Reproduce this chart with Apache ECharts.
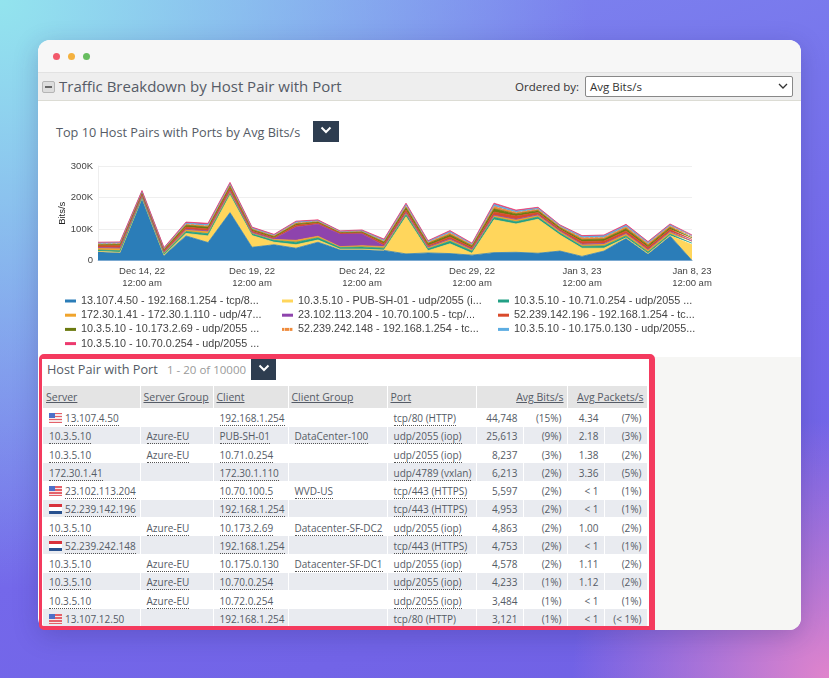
<!DOCTYPE html>
<html>
<head>
<meta charset="utf-8">
<title>Traffic Breakdown by Host Pair with Port</title>
<script src="https://cdn.jsdelivr.net/npm/echarts@6/dist/echarts.min.js"></script>
<style>
    html, body { margin: 0; padding: 0; }
    body { width: 829px; height: 678px; position: relative; overflow: hidden; font-family: "Open Sans", sans-serif; color: #555b66;
        background: radial-gradient(circle at 100% 100%, #e084cc 0, rgba(224,132,204,0) 24%), radial-gradient(circle at 0 0, #93e4ee 0, rgba(147,228,238,0) 55%), linear-gradient(160deg, #7f8cf0 0, #7468ea 60%, #7060e4 100%); }
    .abs { position: absolute; }
    #win { left: 38px; top: 40px; width: 763px; height: 590px; background: #fff; border-radius: 12px; overflow: hidden; box-shadow: 0 6px 24px rgba(40,40,110,.25); }
    #bar { left: 0; top: 0; width: 763px; height: 32px; background: #f7f7f7; }
    .dot { width: 7px; height: 7px; border-radius: 50%; top: 13px; }
    #head { left: 0; top: 32px; width: 763px; height: 29px; background: #eeeeee; border-top: 1px solid #e2e2e2; border-bottom: 1px solid #dcdcd4; box-sizing: border-box; }
    #minus { left: 4px; top: 8px; width: 11px; height: 10px; border: 1px solid #b5b5b5; background: #ddd; border-radius: 2px; }
    #minus i { position: absolute; left: 2px; right: 2px; top: 4px; height: 2px; background: #666; }
    #rest { left: 617px; top: 317px; width: 146px; height: 273px; background: #f6f6f4; }
    .btn { background: #2e3d50; }
    .btn svg { display: block; margin: 5px auto 0; }
    #tableBox { left: 39px; top: 354px; width: 616px; height: 276px; box-sizing: border-box; border-style: solid; border-color: #f43a5e; border-width: 5px 6px 4px 3px; border-radius: 5px 5px 0 5px; background: #fff; overflow: hidden; }
    table { position: absolute; left: 1px; top: 27px; border-collapse: collapse; table-layout: fixed; width: 604px; font-size: 10px; }
    th, td { padding: 0; height: 18.25px; box-sizing: border-box; white-space: nowrap; border-right: 1px solid #fff; font-weight: normal; color: #555b66; }
    th { height: 22px; background: #e4e4e4; text-align: left; padding-left: 3px; font-size: 10.5px; }
    th.r { text-align: right; padding-right: 3px; }
    th span { text-decoration: underline; }
    td { padding-left: 6px; padding-top: 2px; border-top: 1px solid #fff; }
    td.r { text-align: right; padding-right: 5px; padding-left: 0; }
    tr.alt td { background: #e9ebf0; }
    td u { text-decoration: none; border-bottom: 1px dotted #555; }
    .flag { display: inline-block; width: 13px; height: 10px; margin-right: 3px; vertical-align: -1px; }
    .us { background: linear-gradient(#4d6fc8, #4d6fc8) 0 0/6px 5px no-repeat, repeating-linear-gradient(#e4616a 0, #e4616a 1.5px, #f7e6e6 1.5px, #f7e6e6 3px); }
    .nl { background: linear-gradient(#d8323c 0 33%, #fff 33% 66%, #27518f 66%); }
    #chart { left: 0; top: 0; width: 829px; height: 678px; pointer-events: none; }
</style>
</head>
<body>

<div id="win" class="abs">
    <div id="bar" class="abs">
        <div class="abs dot" style="left:15px;background:#f2596b"></div>
        <div class="abs dot" style="left:30px;background:#f4b13f"></div>
        <div class="abs dot" style="left:45px;background:#67bd5f"></div>
    </div>
    <div id="head" class="abs">
        <div id="minus" class="abs"><i></i></div>
        <div class="abs" style="left:21px;top:3px;font-size:15px;white-space:nowrap">Traffic Breakdown by Host Pair with Port</div>
        <div class="abs" style="left:477px;top:6px;font-size:11.5px;color:#333">Ordered by:</div>
        <div class="abs" style="left:547px;top:3px;width:208px;height:21px;box-sizing:border-box;background:#fff;border:1px solid #888;border-radius:2px;font-size:11.5px;color:#333;padding:2px 0 0 4px">Avg Bits/s
            <svg class="abs" style="right:4px;top:6px" width="10" height="7"><path d="M1 1 L5 5 L9 1" fill="none" stroke="#333" stroke-width="1.3"/></svg>
        </div>
    </div>
    <div class="abs" style="left:18px;top:83px;font-size:12.7px;white-space:nowrap">Top 10 Host Pairs with Ports by Avg Bits/s</div>
    <div class="abs btn" style="left:275px;top:81px;width:26px;height:21px"><svg width="12" height="9"><path d="M1.5 1.5 L6 6 L10.5 1.5" fill="none" stroke="#fff" stroke-width="2"/></svg></div>
    <div id="rest" class="abs"></div>
</div>

<div id="tableBox" class="abs">
    <div class="abs" style="left:5px;top:1px;font-size:12.7px;white-space:nowrap">Host Pair with Port</div>
    <div class="abs" style="left:125px;top:3px;font-size:11.5px;color:#9a9a9a;white-space:nowrap">1 - 20 of 10000</div>
    <div class="abs btn" style="left:209px;top:0;width:25px;height:21px"><svg width="12" height="9"><path d="M1.5 1.5 L6 6 L10.5 1.5" fill="none" stroke="#fff" stroke-width="2"/></svg></div>
    <table id="tbl"></table>
</div>

<div id="chart" class="abs"></div>

<script>
    // chart data, values in bits/s (thousands), one point a day
    var days = ['Dec 12, 22','Dec 13, 22','Dec 14, 22','Dec 15, 22','Dec 16, 22','Dec 17, 22','Dec 18, 22','Dec 19, 22','Dec 20, 22','Dec 21, 22','Dec 22, 22','Dec 23, 22','Dec 24, 22','Dec 25, 22','Dec 26, 22','Dec 27, 22','Dec 28, 22','Dec 29, 22','Dec 30, 22','Dec 31, 22','Jan 1, 23','Jan 2, 23','Jan 3, 23','Jan 4, 23','Jan 5, 23','Jan 6, 23','Jan 7, 23','Jan 8, 23'];
    var seriesNames = ['13.107.4.50 - 192.168.1.254 - tcp/8...','10.3.5.10 - PUB-SH-01 - udp/2055 (i...','10.3.5.10 - 10.71.0.254 - udp/2055 ...','172.30.1.41 - 172.30.1.110 - udp/47...','23.102.113.204 - 10.70.100.5 - tcp/...','52.239.142.196 - 192.168.1.254 - tc...','10.3.5.10 - 10.173.2.69 - udp/2055 ...','52.239.242.148 - 192.168.1.254 - tc...','10.3.5.10 - 10.175.0.130 - udp/2055...','10.3.5.10 - 10.70.0.254 - udp/2055 ...'];
    var seriesColors = ['#2b7db8','#ffd65c','#22a085','#f0a42c','#8e44ad','#d94a2b','#6b7a10','#ef8a3c','#5dade2','#ec3a6e'];

    var blue   = [28,25,197,16,78,57,152,42,50,39,58,34,34,32,21,24,22,17,25,26,23,30,13,30,71,21,78,0];
    var yellow = [1,1,1,1,8,21,56,37,8,11,7,2,2,1,118,7,31,6,104,90,108,51,26,9,1,1,1,50];
    var teal   = [4,5,3,5,6,7,5,6,6,8,7,6,7,6,7,6,8,7,8,7,7,6,6,7,6,5,5,5];
    var orange = [7,8,4,4,6,8,7,3,3,6,5,2,4,5,5,5,6,5,6,7,6,6,6,7,7,7,7,6];
    var purple = [1,1,1,1,1,1,1,1,2,42,38,40,38,3,1,1,1,1,1,1,1,1,1,1,1,1,1,1];
    var red    = [6,7,5,4,7,6,8,5,3,6,4,3,3,6,8,5,7,5,10,10,7,5,8,8,8,7,7,5];
    var olive  = [3,4,4,4,6,6,7,4,4,4,3,2,3,5,8,6,7,5,10,7,6,5,6,6,7,6,6,5];
    var dashed = [3,3,3,2,4,4,5,3,3,4,3,2,2,4,6,4,6,4,8,5,5,4,6,6,6,6,5,4];
    var light  = [3,3,2,2,3,4,4,3,2,3,2,2,2,3,5,3,4,3,6,4,4,3,5,5,5,4,4,3];
    var pink   = [2,2,2,2,3,4,3,2,2,2,2,1,2,3,3,2,3,2,4,3,2,2,2,2,3,2,2,2];
    var stacks = [blue, yellow, teal, orange, purple, red, olive, dashed, light, pink];

    // legend columns, holding indexes into seriesNames
    var legendCols = [[0,3,6,9],[1,4,7],[2,5,8]];
    var legendLeft = [65,282,498];

    // table data
    var flags = ['us','','','','us','nl','','nl','','','','us'];
    var servers = ['13.107.4.50','10.3.5.10','10.3.5.10','172.30.1.41','23.102.113.204','52.239.142.196','10.3.5.10','52.239.242.148','10.3.5.10','10.3.5.10','10.3.5.10','13.107.12.50'];
    var serverGroups = ['','Azure-EU','Azure-EU','','','','Azure-EU','','Azure-EU','Azure-EU','Azure-EU',''];
    var clients = ['192.168.1.254','PUB-SH-01','10.71.0.254','172.30.1.110','10.70.100.5','192.168.1.254','10.173.2.69','192.168.1.254','10.175.0.130','10.70.0.254','10.72.0.254','192.168.1.254'];
    var clientGroups = ['','DataCenter-100','','','WVD-US','','Datacenter-SF-DC2','','Datacenter-SF-DC1','','',''];
    var ports = ['tcp/80 (HTTP)','udp/2055 (iop)','udp/2055 (iop)','udp/4789 (vxlan)','tcp/443 (HTTPS)','tcp/443 (HTTPS)','udp/2055 (iop)','tcp/443 (HTTPS)','udp/2055 (iop)','udp/2055 (iop)','udp/2055 (iop)','tcp/80 (HTTP)'];
    var avgBits = ['44,748','25,613','8,237','6,213','5,597','4,953','4,863','4,753','4,578','4,233','3,484','3,121'];
    var bitsPct = ['(15%)','(9%)','(3%)','(2%)','(2%)','(2%)','(2%)','(2%)','(2%)','(1%)','(1%)','(1%)'];
    var avgPackets = ['4.34','2.18','1.38','3.36','< 1','< 1','1.00','< 1','1.11','1.12','< 1','< 1'];
    var packetsPct = ['(7%)','(3%)','(2%)','(5%)','(1%)','(1%)','(2%)','(1%)','(2%)','(2%)','(1%)','(< 1%)'];

    // table
    function dots(s) { return s ? '<u>' + s + '</u>' : ''; }
    var html = '<colgroup><col style="width:97px"><col style="width:73px"><col style="width:75px"><col style="width:99px"><col style="width:89px"><col style="width:47px"><col style="width:44px"><col style="width:37px"><col style="width:43px"></colgroup>';
    html += '<tr><th><span>Server</span></th><th><span>Server Group</span></th><th><span>Client</span></th><th><span>Client Group</span></th><th><span>Port</span></th><th class="r" colspan="2"><span>Avg Bits/s</span></th><th class="r" colspan="2"><span>Avg Packets/s</span></th></tr>';
    for (var i = 0; i < servers.length; i++) {
        html += '<tr' + (i % 2 ? ' class="alt"' : '') + '>';
        html += '<td>' + (flags[i] ? '<i class="flag ' + flags[i] + '"></i>' : '') + dots(servers[i]) + '</td>';
        html += '<td>' + dots(serverGroups[i]) + '</td><td>' + dots(clients[i]) + '</td><td>' + dots(clientGroups[i]) + '</td><td>' + dots(ports[i]) + '</td>';
        html += '<td class="r">' + avgBits[i] + '</td><td class="r">' + bitsPct[i] + '</td><td class="r">' + avgPackets[i].replace('<', '&lt;') + '</td><td class="r">' + packetsPct[i].replace('<', '&lt;') + '</td></tr>';
    }
    document.getElementById('tbl').innerHTML = html;

    // chart
    var myChart = echarts.init(document.getElementById('chart'));

    var series = [];
    for (var s = 0; s < stacks.length; s++) {
        series.push({
            name: seriesNames[s],
            type: 'line',
            stack: 'total',
            data: stacks[s],
            showSymbol: false,
            silent: true,
            color: seriesColors[s],
            lineStyle: { width: 0.8, color: seriesColors[s], type: s === 7 ? 'dashed' : 'solid' },
            areaStyle: { color: seriesColors[s], opacity: 1 }
        });
    }

    // the 52.239.242.148 key is striped in the original
    var stripes = [];
    for (var k = 0; k < 4; k++) {
        stripes.push({ offset: k / 4, color: '#ef8a3c' }, { offset: (k + 0.7) / 4, color: '#ef8a3c' },
                     { offset: (k + 0.7) / 4, color: '#f8cfa8' }, { offset: (k + 1) / 4, color: '#f8cfa8' });
    }

    var legends = legendCols.map(function (col, c) {
        return {
            orient: 'vertical',
            left: legendLeft[c],
            top: 294,
            padding: 0,
            itemWidth: 11,
            itemHeight: 3,
            itemGap: 0.2,
            icon: 'rect',
            selectedMode: false,
            textStyle: { fontFamily: 'Liberation Sans', fontSize: 10.8, color: '#444', lineHeight: 14 },
            data: col.map(function (idx) {
                var item = { name: seriesNames[idx] };
                if (idx === 7) {
                    item.itemStyle = { color: new echarts.graphic.LinearGradient(0, 0, 1, 0, stripes) };
                }
                return item;
            })
        };
    });

    var option = {
        animation: false,
        legend: legends,
        grid: { left: 98, right: 137, top: 166, height: 94.5, containLabel: false },
        xAxis: {
            type: 'category',
            data: days,
            boundaryGap: false,
            axisLine: { lineStyle: { color: '#ccd6eb', width: 1 } },
            axisTick: { show: false },
            axisLabel: {
                color: '#444',
                fontFamily: 'Liberation Sans',
                fontSize: 9.5,
                lineHeight: 12,
                margin: 5,
                hideOverlap: false,
                interval: function (i) { return (i - 2) % 5 === 0; },
                formatter: function (v) { return v + '\n12:00 am'; }
            }
        },
        yAxis: {
            type: 'value',
            min: 0,
            max: 300,
            interval: 100,
            name: 'Bits/s',
            nameLocation: 'middle',
            nameGap: 36,
            nameMoveOverlap: false,
            nameTextStyle: { color: '#222', fontFamily: 'Liberation Sans', fontSize: 9.5, verticalAlign: 'middle' },
            axisLine: { show: true, lineStyle: { color: '#eeeeee', width: 1 } },
            axisTick: { show: false },
            axisLabel: {
                color: '#444',
                fontFamily: 'Liberation Sans',
                fontSize: 9.5,
                margin: 5,
                formatter: function (v) { return v === 0 ? '0' : v + 'K'; }
            },
            splitLine: { lineStyle: { color: '#efefef', width: 1 } }
        },
        series: series
    };

    myChart.setOption(option);
</script>
</body>
</html>
